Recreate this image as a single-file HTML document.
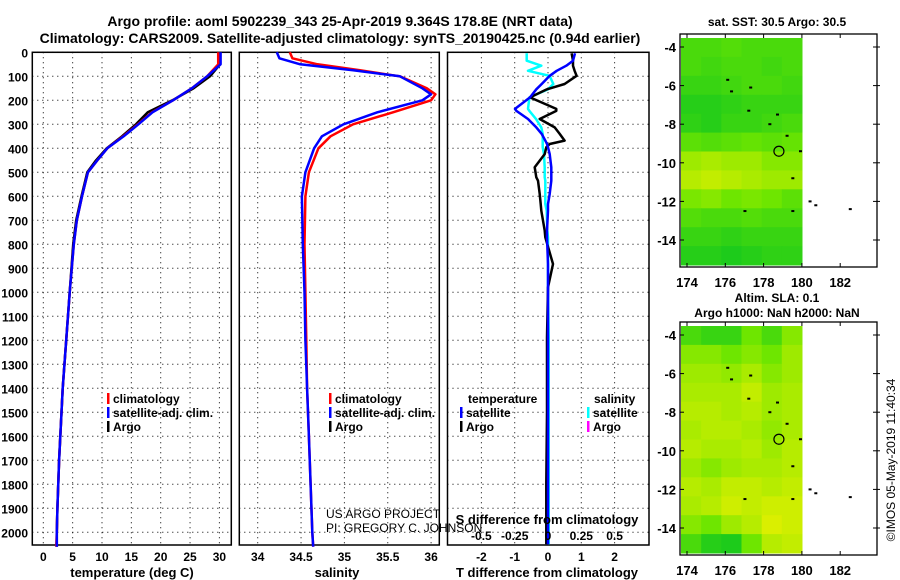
<!DOCTYPE html>
<html><head><meta charset="utf-8">
<style>
html,body{margin:0;padding:0;background:#fff;}
svg{display:block;font-family:"Liberation Sans",sans-serif;}
.b{font-weight:bold;}
</style></head>
<body>
<svg id="c" width="900" height="580" viewBox="0 0 900 580" xmlns="http://www.w3.org/2000/svg">
<text x="340" y="26" text-anchor="middle" class="b" font-size="14">Argo profile: aoml 5902239_343 25-Apr-2019 9.364S 178.8E (NRT data)</text>
<text x="340" y="43" text-anchor="middle" class="b" font-size="14">Climatology: CARS2009. Satellite-adjusted climatology: synTS_20190425.nc (0.94d earlier)</text>
<text x="0" y="0" transform="translate(895,460) rotate(-90)" text-anchor="middle" font-size="12">©IMOS 05-May-2019 11:40:34</text>
</svg>
<script>
// ---------- data ----------
const depthT = [0,50,100,150,200,250,300,350,400,450,500,600,700,800,1000,1200,1400,1500,1700,1900,2000,2060];
const tempClim = [29.8,29.8,27.9,25.3,22.1,18.5,16.1,13.6,10.9,9.2,7.6,6.6,5.7,5.2,4.5,3.9,3.3,3.1,2.7,2.4,2.3,2.2];
const tempSat = [30.2,30.2,27.9,25.3,22.1,18.6,16.2,13.7,10.9,9.2,7.6,6.6,5.7,5.2,4.5,3.9,3.3,3.1,2.7,2.4,2.3,2.3];
const tempArgo = [30.1,30.1,28.4,25.6,22.0,17.8,15.8,13.4,10.8,9.0,7.5,6.5,5.6,5.1,4.5,3.9,3.3,3.1,2.7,2.4,2.3,2.3];
const depthS = [0,25,50,75,100,150,175,200,250,300,350,400,500,600,800,1000,1200,1400,1600,1800,2000,2060];
const salClim = [34.37,34.40,34.69,35.18,35.64,35.95,36.05,36.0,35.56,35.1,34.84,34.7,34.59,34.55,34.54,34.55,34.56,34.57,34.59,34.61,34.63,34.64];
const salSat = [34.22,34.25,34.49,35.1,35.64,35.9,36.0,35.9,35.38,34.99,34.74,34.65,34.55,34.51,34.52,34.54,34.55,34.57,34.59,34.61,34.63,34.64];
const depthD = [4,35,56,77,98,132,154,188,236,244,278,313,340,368,382,396,424,479,521,535,590,632,660,743,771,882,979,1188,1500,1800,2050];
const tDiffSat = [0.81,0.75,0.55,0.26,0.05,-0.19,-0.35,-0.54,-0.99,-0.95,-0.6,-0.35,-0.19,-0.08,-0.03,0,0.05,0.1,0.1,0.1,0.05,0,0,-0.03,-0.03,0,0,0,0,0,0];
const tDiffArgo = [0.71,0.75,0.75,0.8,0.86,0.5,-0.03,-0.54,0.25,0.25,-0.25,0.2,0.35,0.5,0.05,-0.05,-0.1,-0.4,-0.35,-0.3,-0.25,-0.22,-0.2,-0.1,-0.08,0.15,0,-0.03,-0.03,-0.05,-0.05];
const sDiffSat = [-0.16,-0.16,-0.05,-0.15,0.012,0.04,0.0,-0.14,-0.15,-0.14,-0.09,-0.05,-0.04,-0.04,-0.04,-0.04,-0.03,-0.025,-0.025,-0.02,-0.02,-0.02,-0.01,-0.005,0,0,0,0.005,0.005,0.005,0.005];
const tempTicks = [0,5,10,15,20,25,30];
const salTicks = ["34","34.5","35","35.5","36"];
const tDiffTicks = [-2,-1,0,1,2];
const sDiffTicks = ["-0.5","-0.25","0","0.25","0.5"];
const depthTicks = [0,100,200,300,400,500,600,700,800,900,1000,1100,1200,1300,1400,1500,1600,1700,1800,1900,2000];
const lonTicks = [174,176,178,180,182];
const latTicks = [-4,-6,-8,-10,-12,-14];
const sstGrid = [
[0.3,0.3,0.35,0.3,0.3,0.3],[0.3,0.25,0.3,0.3,0.25,0.3],[0.2,0.2,0.25,0.3,0.3,0.25],[0.1,0.1,0.15,0.2,0.2,0.2],
[0.15,0.1,0.2,0.2,0.25,0.3],[0.4,0.35,0.4,0.45,0.4,0.45],[0.7,0.75,0.7,0.7,0.6,0.6],[0.8,0.85,0.8,0.75,0.7,0.7],
[0.55,0.6,0.5,0.55,0.5,0.4],[0.35,0.3,0.3,0.35,0.3,0.3],[0.2,0.2,0.15,0.2,0.2,0.2],[0.1,0.1,0.05,0.1,0.15,0.15]];
const slaGrid = [
[0.3,0.2,0.2,0.5,0.3,0.6],[0.6,0.6,0.5,0.6,0.5,0.7],[0.7,0.7,0.65,0.75,0.6,0.7],[0.75,0.75,0.75,0.85,0.7,0.75],
[0.8,0.8,0.75,0.8,0.7,0.75],[0.75,0.8,0.8,0.75,0.65,0.75],[0.8,0.75,0.75,0.8,0.7,0.8],[0.7,0.6,0.7,0.75,0.75,0.8],
[0.8,0.75,0.85,0.85,0.8,0.85],[0.75,0.8,0.9,0.85,0.9,0.9],[0.6,0.5,0.7,0.8,0.95,0.9],[0.3,0.1,0.05,0.5,0.8,0.85]];
const floatLon = 178.8, floatLat = -9.4;
const coastLon = [176.1,176.3,177.3,177.2,178.3,178.7,179.2,179.9,179.5,177.0,179.5,180.4,180.7,182.5];
const coastLat = [-5.7,-6.3,-6.1,-7.3,-8.0,-7.5,-8.6,-9.4,-10.8,-12.5,-12.5,-12.0,-12.2,-12.4];

// ---------- helpers ----------
const svg = document.getElementById('c');
const NS = 'http://www.w3.org/2000/svg';
function mk(tag, attrs, parent){ const e=document.createElementNS(NS,tag); for(const k in attrs) e.setAttribute(k,attrs[k]); (parent||svg).appendChild(e); return e; }
function txt(x,y,s,size,anchor,bold){ const e=mk('text',{x:x,y:y,'font-size':size,'text-anchor':anchor||'middle'}); if(bold) e.setAttribute('font-weight','bold'); e.textContent=s; return e; }
const yD = d => 52.3 + d*0.24;
const PT = 52.3, PB = 545;
const xT = v => 43.3 + v*5.87;
const xS = v => 257.7 + (v-34)*86.7;
const xTD = v => 548 + v*33.3;
const xSD = v => 548 + v*133.2;

function panel(x0,x1,xs,name){
  const g = mk('g',{});
  
  
  depthTicks.forEach(d=>{ mk('line',{x1:x0,x2:x1,y1:yD(d),y2:yD(d),stroke:'#000','stroke-width':1,'stroke-dasharray':'1,4'},g); });
  xs.forEach(x=>{ mk('line',{x1:x,x2:x,y1:PT,y2:PB,stroke:'#000','stroke-width':1,'stroke-dasharray':'1,4'},g); });
  mk('rect',{x:x0,y:PT,width:x1-x0,height:PB-PT,fill:'none',stroke:'#000','stroke-width':1.5},g);
  return g;
}
function line(xs,ys,fx,color,w,name){
  let p='';
  xs.forEach((v,i)=>{ p += (i?'L':'M') + fx(v).toFixed(1)+','+yD(ys[i]).toFixed(1); });
  const e = mk('path',{d:p,fill:'none',stroke:color,'stroke-width':w,'stroke-linejoin':'round'});
  
  
}

// panel 1 temperature
panel(32.3,231.3,tempTicks.map(xT),'temperature-panel');
tempTicks.forEach(t=>{ const e=txt(xT(t),561,String(t),12,'middle',true);   });
depthTicks.forEach(d=>{ const e=txt(28,yD(d)+5,String(d),12,'end',true);   });
let t1=txt(132,577,'temperature (deg C)',13,'middle',true);  
line(tempArgo,depthT,xT,'#000',2.5,'temp-argo-line');
line(tempClim,depthT,xT,'#f00',2.5,'temp-clim-line');
line(tempSat,depthT,xT,'#00f',2.5,'temp-sat-line');

// panel 2 salinity
panel(239.3,439.3,salTicks.map(v=>xS(+v)),'salinity-panel');
salTicks.forEach(t=>{ const e=txt(xS(+t),561,t,12,'middle',true);   });
let t2=txt(337,577,'salinity',13,'middle',true);  
line(salClim,depthS,xS,'#f00',2.5,'sal-clim-line');
line(salSat,depthS,xS,'#00f',2.5,'sal-sat-line');

// panel 3 differences
panel(447.5,649,tDiffTicks.map(xTD),'difference-panel');
tDiffTicks.forEach(t=>{ const e=txt(xTD(t),561,String(t),12,'middle',true);   });
let t3=txt(547,577,'T difference from climatology',13,'middle',true);  
line(sDiffSat,depthD,xSD,'#0ff',2.5,'sdiff-sat-line');
line(tDiffArgo,depthD,xTD,'#000',2.5,'tdiff-argo-line');
line(tDiffSat,depthD,xTD,'#00f',2.5,'tdiff-sat-line');
sDiffTicks.forEach(t=>{ const e=txt(xSD(+t),540,t,12,'middle',true);   });
let t4=txt(547,524,'S difference from climatology',13,'middle',true);  

// legends
function legItem(x,y,color,label,name){
  const g=mk('g',{});
  
  
  mk('rect',{x:x,y:y-10,width:2.5,height:11,fill:color},g);
  const t=mk('text',{x:x+6,y:y,'font-size':12,'font-weight':'bold'},g); t.textContent=label;
}
[[32,'#f00','climatology'],[0,'#00f','satellite-adj. clim.'],[0,'#000','Argo']];
legItem(107,403,'#f00','climatology','legend-climatology');
legItem(107,417,'#00f','satellite-adj. clim.','legend-satellite-adj');
legItem(107,431,'#000','Argo','legend-argo');
legItem(329,403,'#f00','climatology','legend-climatology-2');
legItem(329,417,'#00f','satellite-adj. clim.','legend-satellite-adj-2');
legItem(329,431,'#000','Argo','legend-argo-2');
let lt=txt(468,403,'temperature',12,'start',true);  
legItem(460,417,'#00f','satellite','legend-t-satellite');
legItem(460,431,'#000','Argo','legend-t-argo');
let ls=txt(594,403,'salinity',12,'start',true);  
legItem(587,417,'#0ff','satellite','legend-s-satellite');
legItem(587,431,'#f0f','Argo','legend-s-argo');

let c1=txt(326,518,'US ARGO PROJECT',12,'start',false);  
let c2=txt(326,532,'PI: GREGORY C. JOHNSON',12,'start',false);  

// maps
function col(v){
  let r,g,b;
  if(v<0.5){ const f=v/0.5; r=20+90*f; g=200+30*f; b=30-30*f; }
  else { const f=(v-0.5)/0.5; r=110+120*f; g=230+10*f; b=0; }
  return 'rgb('+Math.round(r)+','+Math.round(g)+','+Math.round(b)+')';
}
function map(oy,grid,name){
  const g=mk('g',{});
  
  
  const lx = l => 687 + (l-174)*19.15;
  const ly = l => oy + 47 + (-4-l)*19.3;
  const x0=681, x1=802, y0=oy+38, y1=oy+265;
  const rows=grid.length, cols=grid[0].length;
  const cw=(x1-x0)/cols, ch=(y1-y0)/rows;
  grid.forEach((row,i)=>row.forEach((v,j)=>{
    const r=mk('rect',{x:(x0+j*cw).toFixed(1),y:(y0+i*ch).toFixed(1),width:(cw+0.5).toFixed(1),height:(ch+0.5).toFixed(1),fill:col(v)},g);
    
    
  }));
  coastLon.forEach((lo,i)=>{ mk('rect',{x:lx(lo)-1,y:ly(coastLat[i])-1,width:3,height:2,fill:'#000'},g); });
  const c=mk('circle',{cx:lx(floatLon),cy:ly(floatLat),r:5,fill:'none',stroke:'#000','stroke-width':1.2},g);
  
  
  mk('rect',{x:680,y:oy+34,width:197,height:233,fill:'none',stroke:'#000','stroke-width':1.3},g);
  lonTicks.forEach(l=>{
    mk('line',{x1:lx(l),x2:lx(l),y1:oy+34,y2:oy+38,stroke:'#000'},g);
    mk('line',{x1:lx(l),x2:lx(l),y1:oy+263,y2:oy+267,stroke:'#000'},g);
    const t=txt(lx(l),oy+287,String(l),13,'middle',true);  
  });
  latTicks.forEach(l=>{
    mk('line',{x1:680,x2:684,y1:ly(l),y2:ly(l),stroke:'#000'},g);
    mk('line',{x1:873,x2:880,y1:ly(l),y2:ly(l),stroke:'#000'},g);
    const t=txt(676,ly(l)+5,String(l),13,'end',true);  
  });
}
map(0,sstGrid,'sst-map');
map(288,slaGrid,'sla-map');
let m1=txt(777,26,'sat. SST: 30.5 Argo: 30.5',12,'middle',true);  
let m2=txt(777,302,'Altim. SLA: 0.1',12,'middle',true);  
let m3=txt(777,317,'Argo h1000: NaN h2000: NaN',12,'middle',true);  
</script>
</body></html>
